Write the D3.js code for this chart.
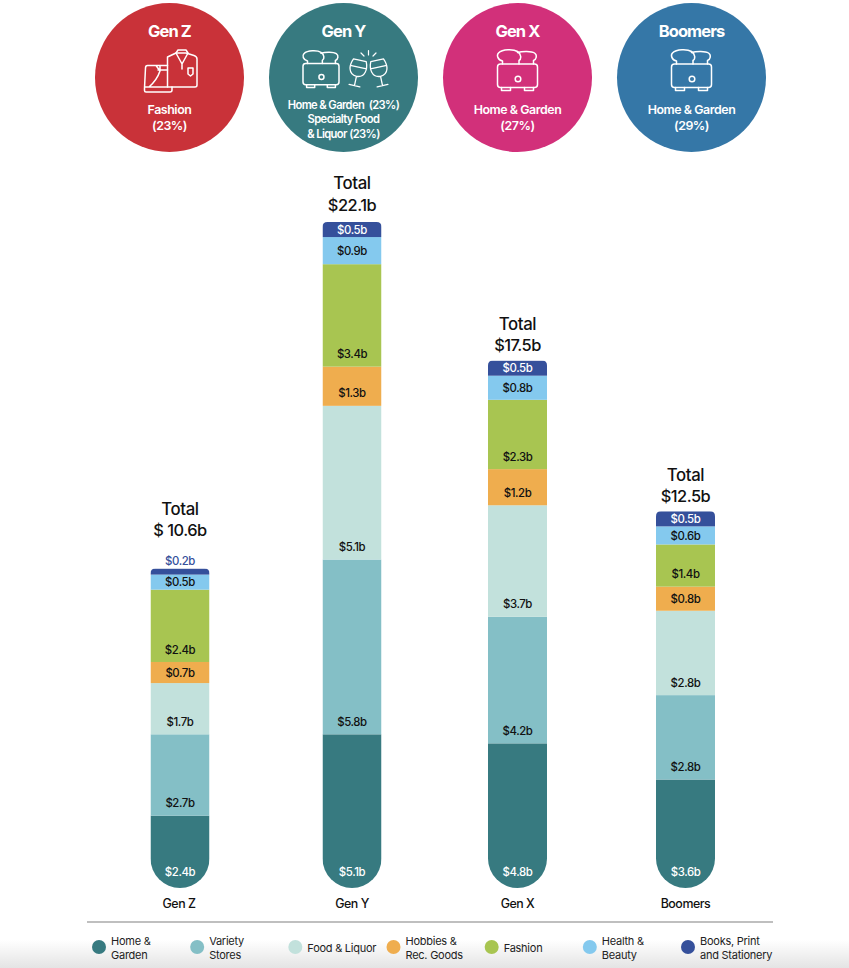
<!DOCTYPE html>
<html><head><meta charset="utf-8">
<script src="https://cdn.jsdelivr.net/npm/d3@7"></script>
<style>
html,body{margin:0;padding:0;background:#fff}
svg{display:block}
text{font-family:Inter,"Liberation Sans",sans-serif}
</style></head><body>
<svg id="c" width="849" height="968"></svg>
<script>
const generations=["Gen Z","Gen Y","Gen X","Boomers"];
const categories=["Home & Garden","Variety Stores","Food & Liquor","Hobbies & Rec. Goods","Fashion","Health & Beauty","Books, Print and Stationery"];
const homeGarden=[2.4,5.1,4.8,3.6];
const varietyStores=[2.7,5.8,4.2,2.8];
const foodLiquor=[1.7,5.1,3.7,2.8];
const hobbiesRec=[0.7,1.3,1.2,0.8];
const fashion=[2.4,3.4,2.3,1.4];
const healthBeauty=[0.5,0.9,0.8,0.6];
const booksPrint=[0.2,0.5,0.5,0.5];
const totals=[10.6,22.1,17.5,12.5];
const seriesValues=[homeGarden,varietyStores,foodLiquor,hobbiesRec,fashion,healthBeauty,booksPrint];
const colors=["#377A80","#84BFC6","#C2E1DC","#EFAD4E","#A8C551","#84C9EE","#35509B"];
const genColors=["#C93239","#377A80","#D2307A","#3577A7"];
const topLines=[["Fashion","(23%)"],["Home & Garden  (23%)","Specialty Food","& Liquor (23%)"],["Home & Garden","(27%)"],["Home & Garden","(29%)"]];
const legendLines=[["Home &","Garden"],["Variety","Stores"],["Food & Liquor"],["Hobbies &","Rec. Goods"],["Fashion"],["Health &","Beauty"],["Books, Print","and Stationery"]];

const svg=d3.select("#c");
const defs=svg.append("defs");
const grad=defs.append("linearGradient").attr("id","foot").attr("x1",0).attr("x2",0).attr("y1",0).attr("y2",1);
grad.append("stop").attr("offset",0).attr("stop-color","#fff");
grad.append("stop").attr("offset",1).attr("stop-color","#e4e4e4");
svg.append("rect").attr("x",0).attr("y",940).attr("width",849).attr("height",28).attr("fill","url(#foot)");

const y=d3.scaleLinear().domain([0,22.1]).range([888,222]);
const xBar=d3.scaleOrdinal(generations,[180,352,517.5,685.5]);
const xCircle=d3.scaleOrdinal(generations,[169.5,343.5,517.5,691.5]);
const totalLift=d3.scaleOrdinal(generations,[21,0,-2,-2.5]);
const barW=59, rBottom=29.5, rTop=5;
const fmt=v=>"$"+v.toFixed(1)+"b";

/* circles */
const R=74.5, cy=77.5;
generations.forEach((g,i)=>{
  const cx=xCircle(g);
  svg.append("circle").attr("cx",cx).attr("cy",cy).attr("r",R).attr("fill",genColors[i]);
  svg.append("text").attr("x",cx).attr("y",36.5).attr("text-anchor","middle").attr("fill","#fff")
    .attr("font-size",16.5).attr("font-weight",700).attr("letter-spacing",-0.9).text(g);
  const lines=topLines[i];
  const three=lines.length===3;
  lines.forEach((t,k)=>svg.append("text").attr("x",cx).attr("y",(three?109:114)+k*(three?14.4:16))
    .attr("text-anchor","middle").attr("fill","#fff").attr("font-size",three?11.2:12.4).attr("font-weight",600)
    .attr("letter-spacing",three?-0.6:-0.45).style("white-space","pre").text(t));
});

function toaster(cx,cyy,s){
  const g=svg.append("g").attr("transform",`translate(${cx},${cyy}) scale(${s})`)
    .attr("fill","none").attr("stroke","#fff").attr("stroke-width",1.5/s).attr("stroke-linejoin","round").attr("stroke-linecap","round");
  g.append("rect").attr("x",-20).attr("y",-6).attr("width",40).attr("height",23.5).attr("rx",3);
  g.append("path").attr("d","M-15,-6 L-15,-9 C-20,-10 -21,-15 -19,-17 C-15,-21 -4,-21 0,-18.5 C4,-16 4,-11 1.5,-9.5 L1.5,-6");
  g.append("path").attr("d","M0,-17.5 C5,-19 14,-19 17,-17 C20,-15 19,-10.5 16,-9.5 L16,-6");
  g.append("circle").attr("cx",0.5).attr("cy",9).attr("r",2.8);
  g.append("path").attr("d","M-16,17.5 L-16,20.5 L-7,20.5 L-7,17.5 M7,17.5 L7,20.5 L16,20.5 L16,17.5");
}
function goblet(cx,cyy,angle){
  const g=svg.append("g").attr("transform",`translate(${cx},${cyy}) rotate(${angle})`)
    .attr("fill","none").attr("stroke","#fff").attr("stroke-width",1.3).attr("stroke-linecap","round").attr("stroke-linejoin","round");
  g.append("path").attr("d","M-6.5,-9 C-9.5,-2 -9,7 0,7.5 C9,7 9.5,-2 6.5,-9 Z M-8.3,-2 L8.3,-2 M0,7.5 L0,17 M-5.5,17 L5.5,17");
}
function glasses(){
  goblet(358,69,12); goblet(379,69,-12);
  svg.append("path").attr("fill","none").attr("stroke","#fff").attr("stroke-width",1.2).attr("stroke-linecap","round")
    .attr("d","M361,53 L364,56 M368.5,50.5 L368.5,55 M376,53 L373,56");
}
function clothes(){
  const g=svg.append("g").attr("fill","none").attr("stroke","#fff").attr("stroke-width",1.5).attr("stroke-linejoin","round").attr("stroke-linecap","round");
  g.append("path").attr("d","M167.5,87 L167.5,57 L176,53 L186,53 L194,55.5 Q197,56.5 197,59 L197,85 Q197,87 195,87 Z");
  g.append("path").attr("d","M176,53 L178,50 L186,50 L188,53 M176,53 L182,64 L188,53 M182,64 L182,69 M188,68 L193,68 L193,74 L190.5,76 L188,74 Z");
  g.append("path").attr("d","M167.5,65.5 L147.5,65.5 Q145.5,65.5 145.5,68 L144.5,88 L144.5,90.5 Q144.5,92 146,92 L170,92 Q172,92 172,90 L172,87 M145,87 L167.5,87 M156,65.5 L160,71 Q157,80 149,87 M158,70 L167.5,70 M160,65.5 L160,70");
}
clothes(); toaster(321,69,0.9); glasses(); toaster(517.5,70,1); toaster(691.5,70,1);

/* stacked bars */
generations.forEach((g,i)=>{
  const cx=xBar(g), x0=cx-barW/2, x1=cx+barW/2;
  const base=y(0), top=y(totals[i]);
  const clipId="clip"+i;
  defs.append("clipPath").attr("id",clipId).append("path").attr("d",
    `M${x0},${base-rBottom} L${x0},${top+rTop} Q${x0},${top} ${x0+rTop},${top} L${x1-rTop},${top} Q${x1},${top} ${x1},${top+rTop} L${x1},${base-rBottom} A${rBottom},${rBottom} 0 0 1 ${x0},${base-rBottom} Z`);
  const bar=svg.append("g").attr("clip-path",`url(#${clipId})`);
  let cum=0;
  const labels=[];
  seriesValues.forEach((s,k)=>{
    const v=s[i], a=y(cum), b=y(cum+v), h=a-b;
    bar.append("rect").attr("x",x0).attr("y",b).attr("width",barW).attr("height",h).attr("fill",colors[k]);
    let ly,fill="#111";
    if(h<8){ly=b-8;fill=colors[6];}
    else if(k===0){ly=a-16;fill="#fff";}
    else if(h<30){ly=a-h/2;}
    else{ly=a-12.5;}
    if(k===6&&h>=8)fill="#fff";
    labels.push({ly,fill,v});
    cum+=v;
  });
  labels.forEach(l=>svg.append("text").attr("x",cx).attr("y",l.ly).attr("dy","0.36em").attr("text-anchor","middle")
    .attr("fill",l.fill).attr("font-size",11.4).attr("font-weight",500).attr("letter-spacing",-0.4).text(fmt(l.v)));
  const shift=totalLift(g);
  svg.append("text").attr("x",cx).attr("y",top-33-shift).attr("text-anchor","middle").attr("fill","#111")
    .attr("font-size",16.8).attr("font-weight",500).attr("letter-spacing",-0.4).text("Total");
  svg.append("text").attr("x",cx).attr("y",top-11.5-shift).attr("text-anchor","middle").attr("fill","#111")
    .attr("font-size",16.4).attr("font-weight",500).attr("letter-spacing",-0.5).text(i===0?"$ "+totals[i].toFixed(1)+"b":"$"+totals[i].toFixed(1)+"b");
  svg.append("text").attr("x",cx+(i===0?-1:0)).attr("y",908).attr("text-anchor","middle").attr("fill","#111")
    .attr("font-size",12.4).attr("font-weight",500).attr("letter-spacing",-0.45).text(g);
});

/* legend */
svg.append("line").attr("x1",87).attr("x2",773).attr("y1",922).attr("y2",922).attr("stroke","#aaa").attr("stroke-width",1.5);
const xLegend=d3.scalePoint(categories,[99,688]);
categories.forEach((c,i)=>{
  const lx=xLegend(c);
  svg.append("circle").attr("cx",lx).attr("cy",947).attr("r",7).attr("fill",colors[i]);
  const lines=legendLines[i];
  lines.forEach((t,k)=>svg.append("text").attr("x",lx+12).attr("y",lines.length===1?952:945+k*14.2)
    .attr("fill","#222").attr("font-size",11).attr("letter-spacing",-0.25).text(t));
});
</script>
</body></html>
